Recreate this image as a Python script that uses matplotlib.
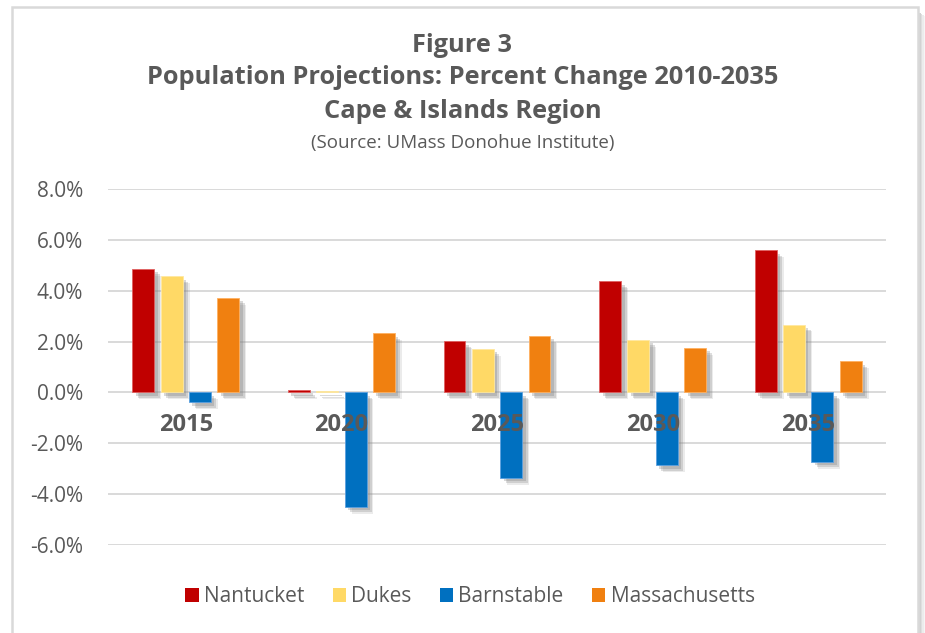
import matplotlib
matplotlib.use("Agg")
import matplotlib.pyplot as plt
import matplotlib.patheffects as pe
from matplotlib.patches import Rectangle
import numpy as np

years = ["2015", "2020", "2025", "2030", "2035"]
series_names = ["Nantucket", "Dukes", "Barnstable", "Massachusetts"]
nantucket = [4.87, 0.10, 2.02, 4.37, 5.59]
dukes = [4.57, 0.05, 1.72, 2.07, 2.67]
barnstable = [-0.38, -4.50, -3.36, -2.87, -2.73]
massachusetts = [3.73, 2.32, 2.22, 1.76, 1.22]
yticks = [-6, -4, -2, 0, 2, 4, 6, 8]

colors = ["#C00000", "#FFD966", "#0070C0", "#F08010"]
edge_colors = ["#E06060", "#FFE8A0", "#5AA0E0", "#FFB060"]
txt = "#595959"
font = ["Open Sans", "DejaVu Sans"]
plt.rcParams['font.family'] = font

W, H = 925, 633
fig = plt.figure(figsize=(W/100, H/100), dpi=100)

# outer frame with shadow
for i, a in enumerate([0.35, 0.25, 0.15, 0.08]):
    fig.patches.append(Rectangle(((919 + i*1.5)/W, 0), 1.5/W, 1 - (13 + i)/H,
                                 transform=fig.transFigure, facecolor="#808080",
                                 alpha=a, edgecolor="none", zorder=0))
fig.patches.append(Rectangle((12/W, -0.05), (918-12)/W, 1.05 - 7/H,
                             transform=fig.transFigure, facecolor="white",
                             edgecolor="#D9D9D9", linewidth=1.8, zorder=1))

left, right = 108/W, 886/W
top, bottom = 1 - 189/H, 1 - 545/H
ax = fig.add_axes([left, bottom, right-left, top-bottom])
ax.set_zorder(2)
ax.patch.set_visible(False)

x = np.arange(len(years))
bw = 0.141
step = 0.182
data = [nantucket, dukes, barnstable, massachusetts]
for k, (vals, name) in enumerate(zip(data, series_names)):
    off = (k - 1.5) * step
    bars = ax.bar(x + off, vals, width=bw, color=colors[k], edgecolor=edge_colors[k],
                  linewidth=0.6, label=name, zorder=3)
    for b in bars:
        b.set_path_effects([pe.SimplePatchShadow(offset=(5, -5), shadow_rgbFace="#7f7f7f", alpha=0.15),
                            pe.SimplePatchShadow(offset=(4, -4), shadow_rgbFace="#7f7f7f", alpha=0.25),
                            pe.SimplePatchShadow(offset=(2.5, -2.5), shadow_rgbFace="#7f7f7f", alpha=0.3),
                            pe.Normal()])

ax.set_xlim(-0.5, len(years) - 0.5)
ax.set_ylim(-6, 8)
ax.set_yticks(yticks)
ax.set_yticklabels([f"{v:.1f}%" for v in yticks], color=txt, fontsize=15)
ax.tick_params(axis='y', length=0, pad=18)
ax.set_xticks([])
for s in ax.spines.values():
    s.set_visible(False)
for v in yticks:
    ax.axhline(v, color="#D9D9D9", lw=1.4, zorder=1)

for i, yr in enumerate(years):
    ax.text(i, -1.3, yr, ha="center", va="center", fontsize=17, fontweight="bold",
            color=txt, zorder=5)

fig.text(0.5, 1 - 45/H, "Figure 3", ha="center", va="center", fontsize=18.3,
         fontweight="bold", color=txt)
fig.text(0.5, 1 - 78/H, "Population Projections: Percent Change 2010-2035", ha="center",
         va="center", fontsize=18.3, fontweight="bold", color=txt)
fig.text(0.5, 1 - 112/H, "Cape & Islands Region", ha="center", va="center", fontsize=18.3,
         fontweight="bold", color=txt)
fig.text(0.5, 1 - 143/H, "(Source: UMass Donohue Institute)", ha="center", va="center",
         fontsize=13.5, color=txt)

leg = fig.legend(loc="center", bbox_to_anchor=(470/W, 1 - 597/H), ncol=4, frameon=False,
                 fontsize=15, handlelength=0.65, handleheight=0.65, handletextpad=0.25,
                 columnspacing=1.35, labelcolor=txt)
for h in leg.legend_handles:
    h.set_path_effects([])
    h.set_edgecolor("none")

fig.savefig("out.png", dpi=100)
